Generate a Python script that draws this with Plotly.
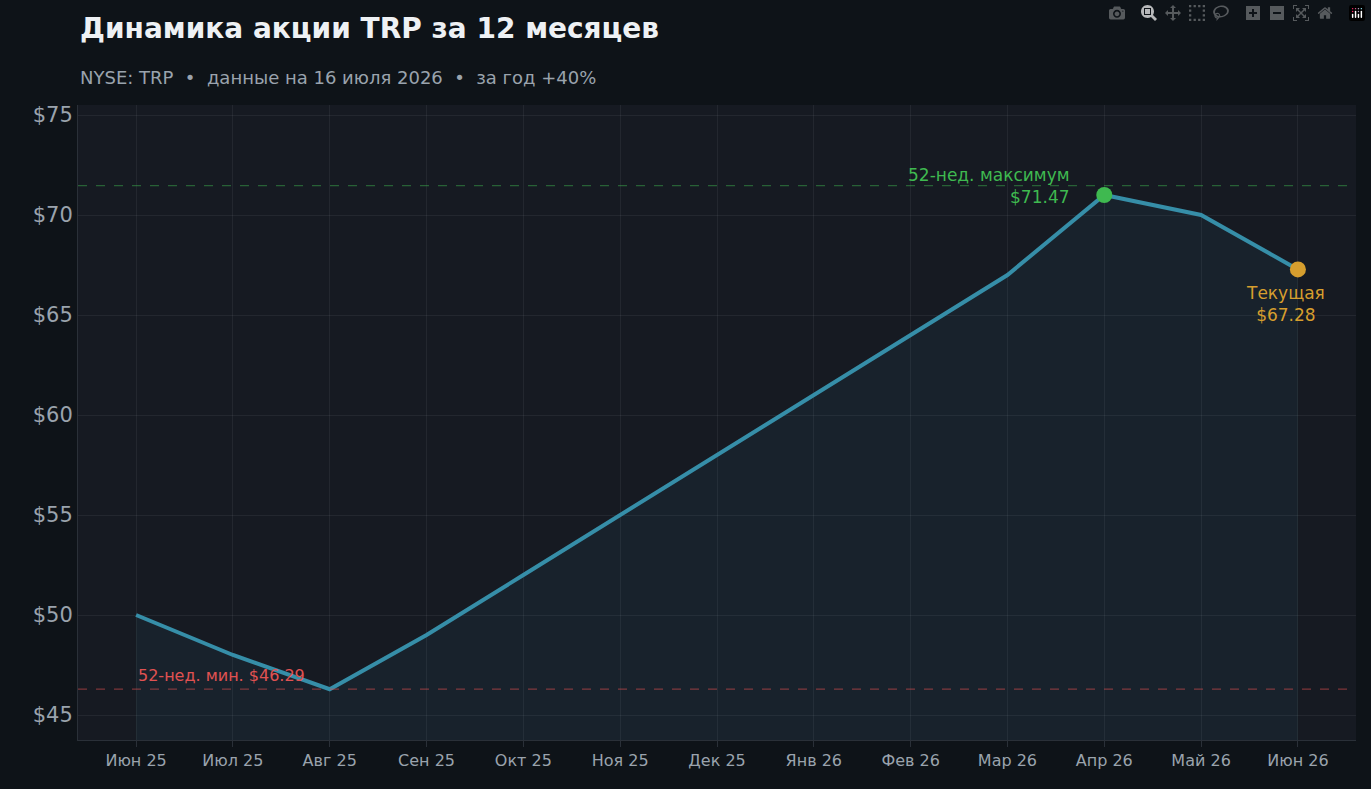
import plotly.graph_objects as go

months = ["Июн 25", "Июл 25", "Авг 25", "Сен 25", "Окт 25", "Ноя 25", "Дек 25",
          "Янв 26", "Фев 26", "Мар 26", "Апр 26", "Май 26", "Июн 26"]
prices = [50.0, 48.0, 46.29, 49.0, 52.0, 55.0, 58.0, 61.0, 64.0, 67.0, 71.0, 70.0, 67.28]
high_52w = 71.47
low_52w = 46.29
current = 67.28

x = list(range(len(months)))
fig = go.Figure()

fig.add_trace(go.Scatter(
    x=x, y=prices, mode="lines",
    line=dict(color="#368ea8", width=4),
    fill="tozeroy", fillcolor="rgba(54,142,168,0.08)",
    hoverinfo="skip", showlegend=False
))
fig.add_trace(go.Scatter(
    x=[x[10]], y=[prices[10]], mode="markers",
    marker=dict(color="#3fb950", size=16), showlegend=False
))
fig.add_trace(go.Scatter(
    x=[x[-1]], y=[current], mode="markers",
    marker=dict(color="#d69e2e", size=16), showlegend=False
))

fig.add_hline(y=high_52w, line=dict(color="rgba(63,185,80,0.45)", width=1.3, dash="dash"))
fig.add_hline(y=low_52w, line=dict(color="rgba(230,80,80,0.5)", width=1.3, dash="dash"))

fig.add_annotation(x=x[10] - 0.33, y=high_52w, text="52-нед. максимум<br>$71.47",
                   showarrow=False, xanchor="right", yanchor="middle", align="right",
                   font=dict(color="#3fb950", size=17, family="DejaVu Sans"))
fig.add_annotation(x=x[0], y=low_52w, text="52-нед. мин. $46.29",
                   showarrow=False, xanchor="left", yanchor="bottom", yshift=2,
                   font=dict(color="#e05252", size=16, family="DejaVu Sans"))
fig.add_annotation(x=x[-1] - 0.13, y=current, text="Текущая<br>$67.28",
                   showarrow=False, xanchor="center", yanchor="top", yshift=-12,
                   font=dict(color="#d69e2e", size=17, family="DejaVu Sans"))

# title and subtitle
fig.add_annotation(xref="paper", yref="paper", x=0, y=1, yshift=77, xanchor="left", yanchor="middle",
                   text="<b>Динамика акции TRP за 12 месяцев</b>", showarrow=False,
                   font=dict(size=28, color="#eef1f4", family="DejaVu Sans"))
fig.add_annotation(xref="paper", yref="paper", x=0, y=1, yshift=28, xanchor="left", yanchor="middle",
                   text="NYSE: TRP  •  данные на 16 июля 2026  •  за год +40%", showarrow=False,
                   font=dict(size=18, color="#9aa3ad", family="DejaVu Sans"))

fig.update_layout(
    width=1371, height=789,
    paper_bgcolor="#0e1318", plot_bgcolor="#161a22",
    margin=dict(l=78, r=15, t=105, b=49),
    font=dict(family="DejaVu Sans", color="#9aa3ad"),
)
fig.update_xaxes(
    range=[-0.6, 12.6], tickvals=x, ticktext=months,
    tickfont=dict(size=16, color="#9aa3ad"),
    showgrid=True, gridcolor="rgba(255,255,255,0.06)", zeroline=False,
    showline=True, linecolor="#2a3038", ticks="outside", tickcolor="#2a3038", ticklen=6
)
fig.update_yaxes(
    range=[43.75, 75.5], tickvals=[45, 50, 55, 60, 65, 70, 75],
    ticktext=["$45", "$50", "$55", "$60", "$65", "$70", "$75"],
    tickfont=dict(size=21, color="#9aa3ad"),
    showgrid=True, gridcolor="rgba(255,255,255,0.06)", zeroline=False,
    showline=True, linecolor="#2a3038"
)

fig.write_html("out.html")

# remove default page margin so the figure sits at the top-left corner
with open("out.html", encoding="utf-8") as f:
    html = f.read()
html = html.replace("<head>", "<head><style>body{margin:0;background:#0e1318;}</style>", 1)
with open("out.html", "w", encoding="utf-8") as f:
    f.write(html)
